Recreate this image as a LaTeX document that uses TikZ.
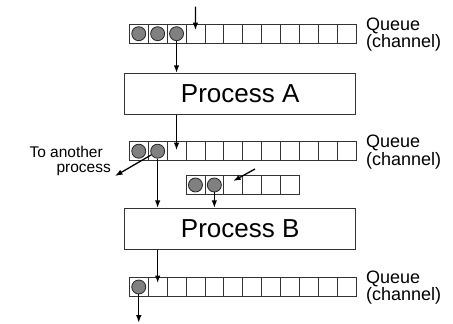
\documentclass[tikz,border=0pt]{standalone}
\usepackage{fontspec}
\setmainfont{Liberation Sans}
\usetikzlibrary{arrows.meta,calc}
\begin{document}
\begin{tikzpicture}[x=1pt,y=-1pt,
 cell/.style={draw=black!80, line width=0.7pt, minimum width=18.9pt, minimum height=19pt, inner sep=0pt, outer sep=0pt},
 ball/.style={circle, draw=black!85, fill=black!50, line width=0.8pt, minimum size=14pt, inner sep=0pt},
 proc/.style={draw=black!80, line width=0.8pt, minimum width=231pt, minimum height=41pt, inner sep=0pt, font=\fontsize{26}{30}\selectfont},
 qlabel/.style={align=left, anchor=west, font=\fontsize{18}{16}\selectfont, inner sep=0pt},
 arr/.style={line width=1.3pt, -{Latex[length=7.5pt,width=5.5pt]}}
]
\useasboundingbox (0,0) rectangle (453,324);
% queue A
\foreach \i in {1,...,12} \node[cell] (qa\i) at ({129.3+(\i-0.5)*18.9}, 33.7) {};
\foreach \i in {1,2,3} \node[ball] (ba\i) at (qa\i) {};
\node[qlabel] (la) at (366,34.4) {Queue\\(channel)};
% process A
\node[proc] (pA) at (240.2,93.8) {Process A};
% queue B
\foreach \i in {1,...,12} \node[cell] (qb\i) at ({129.3+(\i-0.5)*18.9}, 151.2) {};
\foreach \i in {1,2} \node[ball] (bb\i) at (qb\i) {};
\node[qlabel] (lb) at (366,151.9) {Queue\\(channel)};
% small queue
\foreach \i in {1,...,6} \node[cell] (qs\i) at ({186+(\i-0.5)*18.9}, 185) {};
\foreach \i in {1,2} \node[ball] (bs\i) at (qs\i) {};
% process B
\node[proc] (pB) at (240.2,228.8) {Process B};
% queue C
\foreach \i in {1,...,12} \node[cell] (qc\i) at ({129.3+(\i-0.5)*18.9}, 287) {};
\node[ball] (bc1) at (qc1) {};
\node[qlabel] (lc) at (366,287.7) {Queue\\(channel)};
% other process label
\node[align=right, anchor=east, inner sep=0pt, font=\fontsize{15.5}{14.5}\selectfont] (oth) at (111,161) {To another\hbox to 8pt{}\\process};
% free ends
\coordinate (inA) at (195.4,6.7);
\coordinate (toother) at (115,176);
\coordinate (inS) at (255,169);
\coordinate (outC) at (138.75,322.7);
% connectors
\draw[arr] (inA) -- ([yshift=3.5pt]qa4.center);
\draw[arr] (ba3) -- (ba3 |- pA.north);
\draw[arr] (pA.south -| qb3) -- ([yshift=1pt]qb3.center);
\draw[arr] (bb2) -- (toother);
\draw[arr] (bb2) -- (bb2 |- pB.north);
\draw[arr] (inS) -- ([yshift=4pt]qs3.center);
\draw[arr] (bs2) -- (bs2 |- pB.north);
\draw[arr] (pB.south -| qc2) -- ([yshift=4pt]qc2.center);
\draw[arr] (bc1) -- (outC);
\end{tikzpicture}
\end{document}
